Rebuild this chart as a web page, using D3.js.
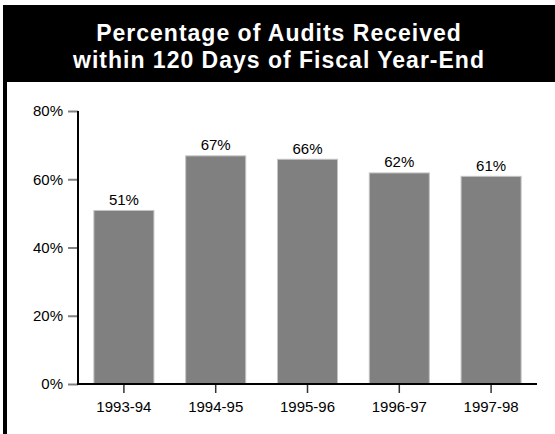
<!DOCTYPE html>
<html><head><meta charset="utf-8">
<script src="https://cdn.jsdelivr.net/npm/d3@7"></script>
<style>html,body{margin:0;padding:0;background:#fff;}svg{display:block;}</style>
</head><body>
<script>
const categories = ["1993-94","1994-95","1995-96","1996-97","1997-98"];
const values = [51, 67, 66, 62, 61];
const yTicks = [0, 20, 40, 60, 80];
const titleLines = ["Percentage of Audits Received", "within 120 Days of Fiscal Year-End"];

(function () {
const W = 555, H = 434;
const svg = d3.select("body").append("svg").attr("width", W).attr("height", H);
const font = "Arial, 'Liberation Sans', Helvetica, sans-serif";

// header
svg.append("rect").attr("x", 3).attr("y", 5).attr("width", W - 3).attr("height", 77).attr("fill", "#000");
svg.append("rect").attr("x", 3).attr("y", 82).attr("width", 4).attr("height", H - 82).attr("fill", "#000");
svg.selectAll("text.title").data(titleLines).join("text")
  .attr("class", "title")
  .attr("x", 279).attr("y", (d, i) => 41 + i * 26.5)
  .attr("text-anchor", "middle").attr("fill", "#fff")
  .attr("font-family", font).attr("font-weight", "bold").attr("font-size", 23)
  .attr("letter-spacing", 1)
  .text(d => d);

const mLeft = 78, mRight = 537, mTop = 111, mBottom = 384;
const x = d3.scaleBand().domain(categories).range([mLeft, mRight]).paddingInner(0.335).paddingOuter(0.1675);
const y = d3.scaleLinear().domain([0, 80]).range([mBottom, mTop]);

// bars
svg.selectAll("rect.bar").data(values).join("rect")
  .attr("class", "bar")
  .attr("x", (d, i) => x(categories[i]) + 0.5)
  .attr("y", d => y(d) + 0.5)
  .attr("width", x.bandwidth() - 1)
  .attr("height", d => mBottom - y(d) - 0.5)
  .attr("fill", "#808080").attr("stroke", "#c4c4c4").attr("stroke-width", 1);

// value labels
svg.selectAll("text.val").data(values).join("text")
  .attr("class", "val")
  .attr("x", (d, i) => x(categories[i]) + x.bandwidth() / 2)
  .attr("y", d => y(d) - 5)
  .attr("text-anchor", "middle").attr("fill", "#000")
  .attr("font-family", font).attr("font-size", 15)
  .text(d => d + "%");

// y axis
const yAxis = svg.append("g").attr("transform", `translate(${mLeft},0)`)
  .call(d3.axisLeft(y).tickValues(yTicks).tickFormat(d => d + "%").tickSize(10).tickPadding(5));
yAxis.select(".domain").remove();
yAxis.selectAll(".tick line").attr("stroke", "#808080").attr("stroke-width", 2);
yAxis.selectAll(".tick text").attr("font-family", font).attr("font-size", 15).attr("fill", "#000");
svg.append("line").attr("x1", mLeft).attr("x2", mLeft).attr("y1", mTop).attr("y2", mBottom + 1)
  .attr("stroke", "#000").attr("stroke-width", 2);

// x axis
const xAxis = svg.append("g").attr("transform", `translate(0,${mBottom})`)
  .call(d3.axisBottom(x).tickSize(9).tickPadding(8));
xAxis.select(".domain").remove();
xAxis.selectAll(".tick line").attr("stroke", "#333").attr("stroke-width", 1.5);
xAxis.selectAll(".tick text").attr("font-family", font).attr("font-size", 15).attr("fill", "#000");
svg.append("line").attr("x1", mLeft - 1).attr("x2", mRight).attr("y1", mBottom).attr("y2", mBottom)
  .attr("stroke", "#000").attr("stroke-width", 2);
})();
</script>
</body></html>
